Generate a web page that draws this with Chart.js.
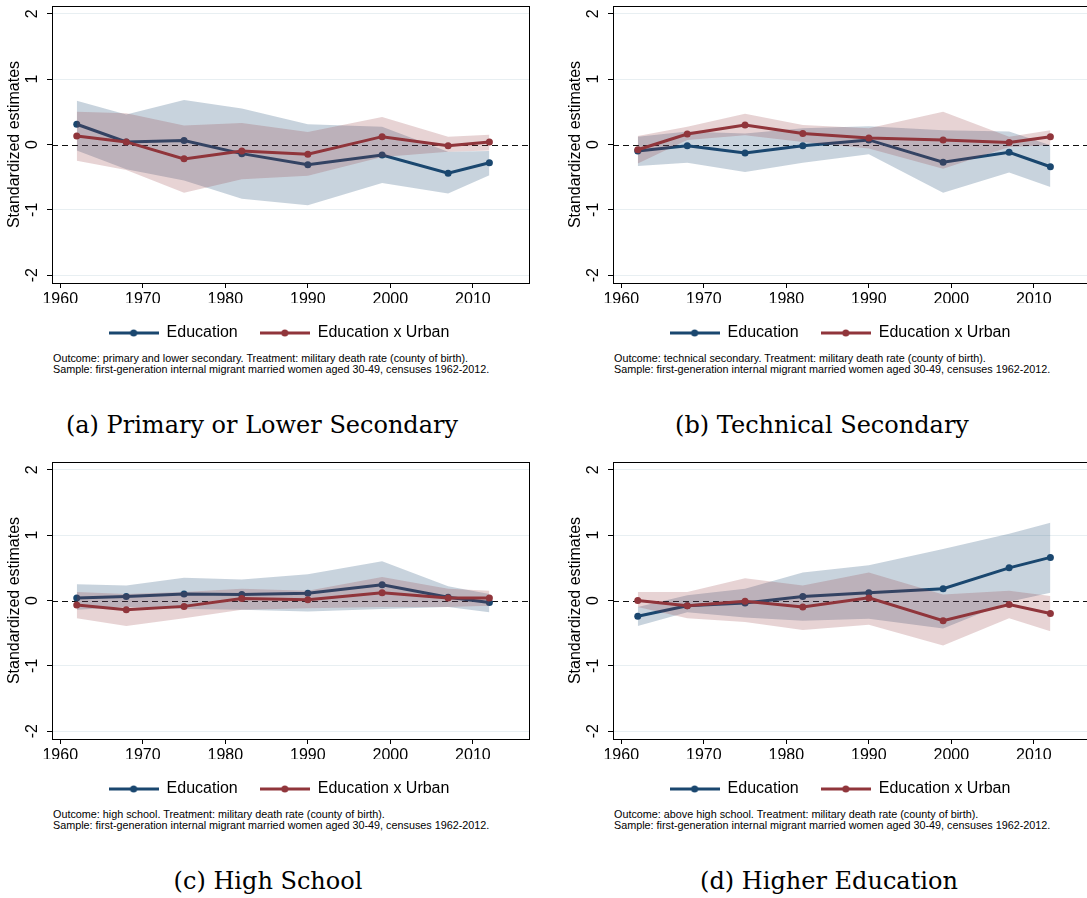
<!DOCTYPE html>
<html>
<head>
<meta charset="utf-8">
<script src="https://cdn.jsdelivr.net/npm/chart.js@4.4.0/dist/chart.umd.min.js"></script>
<style>
  html, body { margin: 0; padding: 0; background: #fff; }
  body { width: 1087px; height: 898px; position: relative; overflow: hidden; }
  canvas { position: absolute; }
  .note { position: absolute; font-family: "Liberation Sans", Arial, sans-serif; font-size: 10.8px; line-height: 11px; color: #000; white-space: nowrap; }
  .cap { position: absolute; width: 500px; text-align: center; font-family: "DejaVu Serif", serif; font-size: 24px; line-height: 28px; color: #000; white-space: nowrap; }
</style>
</head>
<body>
<canvas id="ca" width="558" height="351" style="left:0;top:0"></canvas>
<canvas id="cb" width="558" height="351" style="left:561px;top:0"></canvas>
<canvas id="cc" width="558" height="351" style="left:0;top:456px"></canvas>
<canvas id="cd" width="558" height="351" style="left:561px;top:456px"></canvas>

<div class="note" style="left:53px;top:353px">Outcome: primary and lower secondary. Treatment: military death rate (county of birth).<br>Sample: first-generation internal migrant married women aged 30-49, censuses 1962-2012.</div>
<div class="note" style="left:614px;top:353px">Outcome: technical secondary. Treatment: military death rate (county of birth).<br>Sample: first-generation internal migrant married women aged 30-49, censuses 1962-2012.</div>
<div class="note" style="left:53px;top:809px">Outcome: high school. Treatment: military death rate (county of birth).<br>Sample: first-generation internal migrant married women aged 30-49, censuses 1962-2012.</div>
<div class="note" style="left:614px;top:809px">Outcome: above high school. Treatment: military death rate (county of birth).<br>Sample: first-generation internal migrant married women aged 30-49, censuses 1962-2012.</div>

<div class="cap" style="left:12px;top:411px">(a) Primary or Lower Secondary</div>
<div class="cap" style="left:572px;top:411px">(b) Technical Secondary</div>
<div class="cap" style="left:18px;top:867px">(c) High School</div>
<div class="cap" style="left:579px;top:867px">(d) Higher Education</div>

<script>
// census years
const years = [1962, 1968, 1975, 1982, 1990, 1999, 2007, 2012];
const xTicks = [1960, 1970, 1980, 1990, 2000, 2010];
const yTicks = [-2, -1, 0, 1, 2];
const seriesNames = ['Education', 'Education x Urban'];

// (a) primary or lower secondary
const eduA   = [0.31, 0.04, 0.06, -0.14, -0.31, -0.16, -0.44, -0.28];
const eduAHi = [0.67, 0.46, 0.68, 0.55, 0.31, 0.27, -0.11, -0.10];
const eduALo = [-0.09, -0.38, -0.55, -0.83, -0.93, -0.59, -0.75, -0.47];
const urbA   = [0.13, 0.04, -0.22, -0.10, -0.15, 0.12, -0.02, 0.04];
const urbAHi = [0.50, 0.48, 0.29, 0.33, 0.19, 0.42, 0.12, 0.15];
const urbALo = [-0.25, -0.39, -0.74, -0.53, -0.48, -0.19, -0.11, -0.09];

// (b) technical secondary
const eduB   = [-0.10, -0.02, -0.13, -0.02, 0.07, -0.27, -0.12, -0.34];
const eduBHi = [0.12, 0.20, 0.17, 0.25, 0.28, 0.22, 0.20, -0.01];
const eduBLo = [-0.33, -0.28, -0.42, -0.28, -0.15, -0.74, -0.43, -0.65];
const urbB   = [-0.08, 0.16, 0.30, 0.17, 0.10, 0.07, 0.03, 0.12];
const urbBHi = [0.13, 0.27, 0.47, 0.30, 0.25, 0.50, 0.12, 0.22];
const urbBLo = [-0.29, 0.07, 0.14, 0.04, -0.06, -0.37, -0.04, -0.01];

// (c) high school
const eduC   = [0.04, 0.06, 0.10, 0.09, 0.11, 0.24, 0.05, -0.03];
const eduCHi = [0.25, 0.23, 0.35, 0.32, 0.40, 0.60, 0.22, 0.10];
const eduCLo = [-0.14, -0.10, -0.13, -0.14, -0.17, -0.13, -0.10, -0.18];
const urbC   = [-0.07, -0.14, -0.09, 0.03, 0.01, 0.12, 0.04, 0.04];
const urbCHi = [0.13, 0.10, 0.13, 0.18, 0.15, 0.36, 0.18, 0.15];
const urbCLo = [-0.27, -0.39, -0.27, -0.14, -0.12, -0.10, -0.10, -0.08];

// (d) higher education
const eduD   = [-0.24, -0.08, -0.04, 0.06, 0.12, 0.18, 0.50, 0.66];
const eduDHi = [-0.10, 0.08, 0.18, 0.43, 0.54, 0.79, 1.02, 1.19];
const eduDLo = [-0.39, -0.18, -0.26, -0.31, -0.28, -0.43, -0.02, 0.12];
const urbD   = [0.00, -0.08, -0.01, -0.10, 0.04, -0.31, -0.06, -0.20];
const urbDHi = [0.13, 0.13, 0.34, 0.23, 0.43, 0.09, 0.15, 0.07];
const urbDLo = [-0.10, -0.27, -0.33, -0.45, -0.37, -0.69, -0.27, -0.47];

const colors = {
    blue: { line: "#1a476f", band: "rgba(26, 71, 111, 0.24)" },
    red: { line: "#90353b", band: "rgba(144, 53, 59, 0.22)" }
};
const sans = "'Liberation Sans', Arial, sans-serif";

// legend symbol: line with a dot in the middle
function legendIcon(color) {
    const c = document.createElement('canvas');
    c.width = 50; c.height = 10;
    const g = c.getContext('2d');
    g.strokeStyle = color; g.lineWidth = 3;
    g.beginPath(); g.moveTo(0, 5); g.lineTo(50, 5); g.stroke();
    g.fillStyle = color;
    g.beginPath(); g.arc(25, 5, 3.5, 0, Math.PI * 2); g.fill();
    return c;
}
const iconBlue = legendIcon(colors.blue.line);
const iconRed = legendIcon(colors.red.line);

// dashed zero line and plot frame
const framePlugin = {
    id: 'frame',
    beforeDatasetsDraw(chart) {
        const {ctx, chartArea: a, scales: {y}} = chart;
        const y0 = Math.round(y.getPixelForValue(0)) + 0.5;
        ctx.save();
        ctx.strokeStyle = '#111';
        ctx.lineWidth = 1;
        ctx.setLineDash([6, 4]);
        ctx.beginPath(); ctx.moveTo(a.left, y0); ctx.lineTo(a.right, y0); ctx.stroke();
        ctx.restore();
    },
    afterDatasetsDraw(chart) {
        const {ctx, chartArea: a} = chart;
        ctx.save();
        ctx.strokeStyle = '#000';
        ctx.lineWidth = 1;
        ctx.strokeRect(Math.round(a.left) + 0.5, Math.round(a.top) + 0.5,
            Math.round(a.right - a.left), Math.round(a.bottom - a.top));
        ctx.restore();
    }
};

function panel(id, edu, eduLo, eduHi, urb, urbLo, urbHi) {
    const pts = (v) => years.map((yr, i) => ({x: yr, y: v[i]}));
    const bound = (v, order) => ({
        data: pts(v), borderWidth: 0, borderColor: 'transparent',
        pointRadius: 0, fill: false, order: order
    });
    const line = (label, v, col, order) => ({
        label: label, data: pts(v), borderColor: col, backgroundColor: col,
        borderWidth: 3, pointRadius: 3.5, pointBackgroundColor: col,
        pointBorderWidth: 0, tension: 0, fill: false, order: order
    });
    const lo1 = bound(eduLo, 5); lo1.fill = '-1'; lo1.backgroundColor = colors.blue.band;
    const lo2 = bound(urbLo, 2); lo2.fill = '-1'; lo2.backgroundColor = colors.red.band;

    return new Chart(document.getElementById(id), {
        type: 'line',
        data: {
            datasets: [
                bound(eduHi, 6), lo1, line(seriesNames[0], edu, colors.blue.line, 4),
                bound(urbHi, 3), lo2, line(seriesNames[1], urb, colors.red.line, 1)
            ]
        },
        options: {
            responsive: false,
            animation: false,
            layout: { padding: { top: 6, left: 0, right: 0, bottom: 0 } },
            scales: {
                x: {
                    type: 'linear', min: 1959, max: 2016.8,
                    afterBuildTicks: (s) => { s.ticks = xTicks.map((v) => ({value: v})); },
                    afterFit: (s) => { s.height = 20; s.paddingLeft = 0; s.paddingRight = 0; },
                    grid: { drawOnChartArea: false, tickLength: 5, tickColor: '#000', tickWidth: 1 },
                    border: { display: false },
                    ticks: { color: '#000', font: { family: sans, size: 16 }, padding: 2, maxRotation: 0, callback: (v) => String(v) }
                },
                y: {
                    type: 'linear', min: -2.12, max: 2.12,
                    afterBuildTicks: (s) => { s.ticks = yTicks.map((v) => ({value: v})); },
                    afterFit: (s) => { s.width = 52; s.paddingTop = 0; s.paddingBottom = 0; },
                    grid: {
                        color: (c) => (c.tick && c.tick.value === 0) ? 'rgba(0,0,0,0)' : '#e8eff2',
                        tickLength: 5, tickColor: '#000', tickWidth: 1
                    },
                    border: { display: false },
                    ticks: {
                        color: '#000', font: { family: sans, size: 16 },
                        minRotation: 90, maxRotation: 90, crossAlign: 'center', padding: 7,
                        callback: (v) => String(v)
                    },
                    title: {
                        display: true, text: 'Standardized estimates', color: '#000',
                        font: { family: sans, size: 16 }, padding: { top: 5, bottom: 0 }
                    }
                },
                yr: {
                    type: 'linear', position: 'right', display: true,
                    afterFit: (s) => { s.width = 29; s.paddingTop = 0; s.paddingBottom = 0; },
                    grid: { display: false, drawTicks: false },
                    border: { display: false },
                    ticks: { display: false }
                }
            },
            plugins: {
                tooltip: { enabled: false },
                legend: {
                    position: 'bottom',
                    labels: {
                        usePointStyle: true, pointStyleWidth: 50, padding: 22,
                        color: '#000', font: { family: sans, size: 16 },
                        generateLabels: () => [
                            { text: seriesNames[0], pointStyle: iconBlue, datasetIndex: 2, hidden: false,
                              fillStyle: colors.blue.line, strokeStyle: colors.blue.line, lineWidth: 0, fontColor: '#000' },
                            { text: seriesNames[1], pointStyle: iconRed, datasetIndex: 5, hidden: false,
                              fillStyle: colors.red.line, strokeStyle: colors.red.line, lineWidth: 0, fontColor: '#000' }
                        ]
                    }
                }
            }
        },
        plugins: [framePlugin]
    });
}

panel('ca', eduA, eduALo, eduAHi, urbA, urbALo, urbAHi);
panel('cb', eduB, eduBLo, eduBHi, urbB, urbBLo, urbBHi);
panel('cc', eduC, eduCLo, eduCHi, urbC, urbCLo, urbCHi);
panel('cd', eduD, eduDLo, eduDHi, urbD, urbDLo, urbDHi);
</script>
</body>
</html>
